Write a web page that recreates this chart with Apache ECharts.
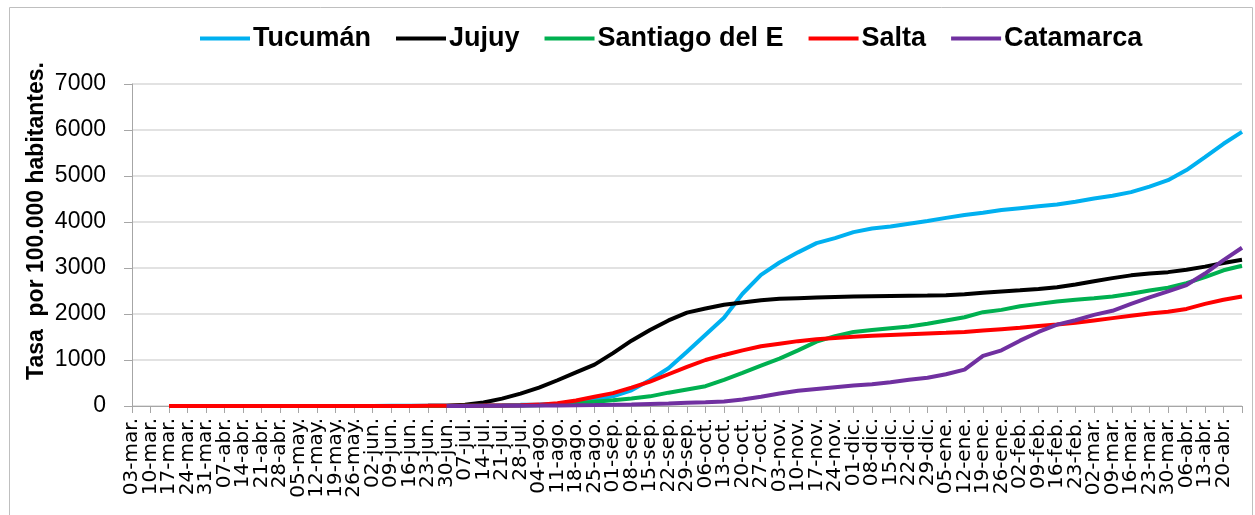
<!DOCTYPE html>
<html>
<head>
<meta charset="utf-8">
<script src="https://cdn.jsdelivr.net/npm/echarts@6/dist/echarts.min.js"></script>
<style>
    html, body { margin: 0; padding: 0; background: #fff; }
    #chart { width: 1255px; height: 515px; }
</style>
</head>
<body>
<div id="chart"></div>
<script>
// ---- etiquetas del eje X (semanas) ----
const fechas = [
    '03-mar.', '10-mar.', '17-mar.', '24-mar.', '31-mar.', '07-abr.', '14-abr.', '21-abr.', '28-abr.',
    '05-may.', '12-may.', '19-may.', '26-may.', '02-jun.', '09-jun.', '16-jun.', '23-jun.', '30-jun.',
    '07-jul.', '14-jul.', '21-jul.', '28-jul.', '04-ago.', '11-ago.', '18-ago.', '25-ago.',
    '01-sep.', '08-sep.', '15-sep.', '22-sep.', '29-sep.', '06-oct.', '13-oct.', '20-oct.', '27-oct.',
    '03-nov.', '10-nov.', '17-nov.', '24-nov.', '01-dic.', '08-dic.', '15-dic.', '22-dic.', '29-dic.',
    '05-ene.', '12-ene.', '19-ene.', '26-ene.', '02-feb.', '09-feb.', '16-feb.', '23-feb.',
    '02-mar.', '09-mar.', '16-mar.', '23-mar.', '30-mar.', '06-abr.', '13-abr.', '20-abr.', '27-abr.'
];

// ---- series (tasa por 100.000 hab., un valor por semana) ----
const tucuman = [
    null, null, 0, 0, 0, 0, 0, 0, 1, 1, 1, 1, 2, 2, 3, 3, 4,
    5, 8, 12, 18, 25, 35, 50, 90, 150,
    210, 340, 565, 820, 1180, 1550, 1920, 2440, 2850,
    3120, 3340, 3540, 3650, 3780, 3860, 3900, 3960, 4020,
    4090, 4150, 4200, 4260, 4300, 4340, 4380, 4440,
    4510, 4570, 4650, 4770, 4910, 5130, 5410, 5700, 5960
];
const jujuy = [
    null, null, 0, 0, 0, 0, 0, 0, 0, 0, 0, 1, 1, 1, 2, 2, 3,
    5, 25, 75, 160, 270, 400, 560, 730, 900,
    1150, 1420, 1650, 1860, 2030, 2120, 2200, 2250, 2300,
    2330, 2345, 2360, 2370, 2380, 2385, 2390, 2395, 2400,
    2410, 2430, 2460, 2490, 2515, 2545, 2580, 2640,
    2710, 2780, 2840, 2880, 2910, 2960, 3030, 3110, 3180
];
const santiago = [
    null, null, 0, 0, 0, 0, 0, 0, 0, 0, 0, 0, 0, 1, 1, 1, 2,
    2, 3, 4, 6, 9, 15, 30, 55, 90,
    125, 165, 210, 290, 360, 430, 570, 720, 880,
    1030, 1210, 1400, 1520, 1610, 1650, 1690, 1730, 1790,
    1860, 1930, 2040, 2090, 2170, 2220, 2270, 2310,
    2340, 2380, 2440, 2510, 2570, 2670, 2800, 2950, 3050
];
const salta = [
    null, null, 0, 0, 0, 0, 0, 0, 0, 0, 0, 0, 1, 1, 1, 2, 3,
    4, 6, 9, 13, 18, 30, 60, 120, 200,
    280, 400, 528, 690, 850, 1000, 1110, 1210, 1300,
    1355, 1410, 1450, 1480, 1505, 1525, 1545, 1560, 1575,
    1590, 1610, 1640, 1670, 1700, 1740, 1770, 1810,
    1860, 1910, 1960, 2010, 2050, 2110, 2220, 2310, 2380
];
const catamarca = [
    null, null, null, null, null, null, null, null, null, null, null, null, null, null, null, null, null,
    0, 2, 4, 6, 8, 10, 13, 16, 20,
    25, 32, 42, 52, 68, 82, 100, 140, 200,
    270, 330, 370, 410, 445, 475, 515, 570, 615,
    690, 790, 1090, 1210, 1420, 1610, 1770, 1865,
    1980, 2070, 2220, 2360, 2490, 2630, 2880, 3170, 3440
];

const seriesDef = [
    { name: 'Tucumán', data: tucuman, color: '#00b0f0' },
    { name: 'Jujuy', data: jujuy, color: '#000000' },
    { name: 'Santiago del E', data: santiago, color: '#00b050' },
    { name: 'Salta', data: salta, color: '#ff0000' },
    { name: 'Catamarca', data: catamarca, color: '#7030a0' },
];

const chart = echarts.init(document.getElementById('chart'), null, { renderer: 'canvas' });

chart.setOption({
    backgroundColor: '#ffffff',
    animation: false,
    textStyle: { fontFamily: 'Liberation Sans' },
    grid: { left: 132, right: 13, top: 84, bottom: 109, containLabel: false },
    legend: {
        left: 195,
        top: 20,
        icon: 'rect',
        itemWidth: 50,
        itemHeight: 4,
        itemGap: 25,
        textStyle: {
            fontFamily: 'Liberation Sans',
            fontWeight: 'bold',
            fontSize: 27,
            color: '#000',
            padding: [0, 0, 0, -2]
        },
        data: seriesDef.map(s => s.name)
    },
    graphic: [
        {
            type: 'rect',
            silent: true,
            shape: { x: 9.5, y: 7.5, width: 1243, height: 530 },
            style: { fill: 'none', stroke: '#bfbfbf', lineWidth: 1 }
        },
        {
            type: 'text',
            x: 37,
            y: 221,
            rotation: Math.PI / 2,
            style: {
                text: 'Tasa  por 100.000 habitantes.',
                fontFamily: 'Liberation Sans',
                fontWeight: 'bold',
                fontSize: 23,
                fill: '#000',
                align: 'center',
                verticalAlign: 'middle'
            }
        }
    ],
    xAxis: {
        type: 'category',
        data: fechas,
        boundaryGap: false,
        axisLine: { lineStyle: { color: '#a6a6a6', width: 1 } },
        axisTick: { show: true, length: 7, interval: 0, lineStyle: { color: '#a6a6a6' } },
        axisLabel: {
            interval: 0,
            rotate: 90,
            margin: 12,
            fontFamily: 'DejaVu Sans',
            fontSize: 20,
            color: '#000',
            formatter: (v, i) => (i === fechas.length - 1 ? '' : v)
        },
        splitLine: { show: false }
    },
    yAxis: {
        type: 'value',
        min: 0,
        max: 7000,
        interval: 1000,
        axisLine: { show: true, lineStyle: { color: '#a6a6a6', width: 1 } },
        axisTick: { show: true, length: 8, lineStyle: { color: '#a6a6a6' } },
        axisLabel: {
            margin: 26,
            fontFamily: 'Liberation Sans',
            fontSize: 23,
            color: '#000',
            formatter: v => String(v)
        },
        splitLine: { lineStyle: { color: '#d9d9d9', width: 1.5 } }
    },
    series: seriesDef.map(s => ({
        name: s.name,
        type: 'line',
        data: s.data,
        symbol: 'none',
        smooth: false,
        connectNulls: false,
        color: s.color,
        lineStyle: { color: s.color, width: 4 },
        itemStyle: { color: s.color }
    }))
});
</script>
</body>
</html>
